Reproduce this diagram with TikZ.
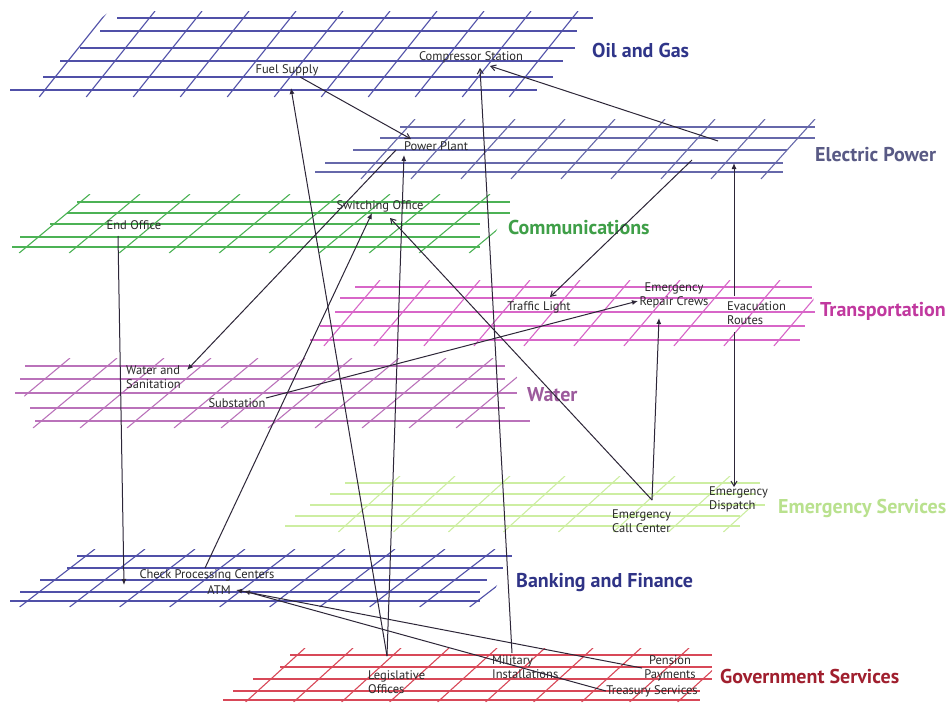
\documentclass[tikz,border=0pt]{standalone}
\usepackage{fontspec}
\setmainfont{PT Sans}
\usetikzlibrary{arrows.meta}
\definecolor{ogc}{HTML}{5050A8}
\definecolor{epc}{HTML}{6668AA}
\definecolor{cmc}{HTML}{4CB255}
\definecolor{trc}{HTML}{D866C8}
\definecolor{wac}{HTML}{BA72BA}
\definecolor{esc}{HTML}{CDEEA2}
\definecolor{bkc}{HTML}{5050A8}
\definecolor{gvc}{HTML}{D84858}
\definecolor{ogt}{HTML}{2F3589}
\definecolor{ept}{HTML}{595A85}
\definecolor{cmt}{HTML}{3F9F48}
\definecolor{trt}{HTML}{C1399F}
\definecolor{wat}{HTML}{9C5A9C}
\definecolor{est}{HTML}{B9E18E}
\definecolor{bkt}{HTML}{2F3386}
\definecolor{gvt}{HTML}{A01F2E}
\definecolor{conc}{HTML}{2D2638}
\definecolor{txt}{HTML}{2A2A2A}
\newcommand{\gridplane}[7]{%
  \begin{scope}
    \foreach \yy/\aa/\bb in {#2} \draw[#1, line width=1.1pt] (\aa,\yy) -- (\bb,\yy);
    \clip #3;
    \foreach \xx in {#4} \draw[#1, line width=1.1pt] (\xx,#5) -- ({\xx-#7*(#6-#5)},#6);
  \end{scope}}
\tikzset{
  conn/.style={draw=conc, line width=1pt},
  fa/.style={conn, -{Latex[length=6pt,width=5pt]}},
  oa/.style={conn, -{Straight Barb[length=5pt,width=6pt]}},
  biglabel/.style={font=\bfseries\fontsize{20}{22}\selectfont, inner sep=0pt, anchor=west},
  small/.style={font=\fontsize{12.5}{14}\selectfont, text=txt, inner sep=0pt},
  smallml/.style={small, align=left, anchor=west},
}
\begin{document}
\begin{tikzpicture}[x=1pt,y=-1pt]
\useasboundingbox[fill=white] (0,0) rectangle (952,702);
% planes
\gridplane{ogc}{18/117/593, 31/100/577, 48/80/575, 61/60/563, 77/43/553, 90/10/537}
  {(110,11)--(598,11)--(542,97)--(4,97)--cycle}{108,155,...,590}{11}{97}{0.8}
\gridplane{epc}{127/400/815, 138/380/815, 150/353/787, 163/325/783, 172/315/783}
  {(395,119)--(820,119)--(788,179)--(308,179)--cycle}{415,465,...,815}{119}{179}{0.9}
\gridplane{cmc}{202/77/510, 213/67/510, 224/50/480, 237/20/480, 247/12/480}
  {(72,194)--(515,194)--(485,253)--(5,253)--cycle}{90,140,...,540}{194}{253}{1.2}
\gridplane{trc}{287/355/812, 298/340/812, 312/335/815, 326/320/805, 340/310/800}
  {(350,280)--(817,280)--(805,346)--(303,346)--cycle}{380,430,...,840}{280}{346}{0.85}
\gridplane{wac}{366/25/505, 379/20/505, 393/15/517, 408/30/505, 421/35/530}
  {(20,358)--(510,358)--(535,428)--(28,428)--cycle}{70,117,...,580}{358}{428}{1.2}
\gridplane{esc}{483/345/760, 494/330/755, 505/310/765, 516/295/740, 526/285/740}
  {(340,476)--(765,476)--(745,532)--(278,532)--cycle}{400,455,...,800}{476}{532}{1.1}
\gridplane{bkc}{556/77/512, 568/67/503, 580/40/487, 592/20/480, 601/10/480}
  {(72,549)--(517,549)--(485,607)--(4,607)--cycle}{95,145,...,545}{549}{607}{1.3}
\gridplane{gvc}{655/290/712, 667/280/712, 679/253/712, 691/233/700, 700/223/700}
  {(285,648)--(717,648)--(705,702)--(218,702)--cycle}{305,353,...,750}{648}{702}{1.1}
% plane labels
\node[biglabel, text=ogt] (oglab) at (592,50) {Oil and Gas};
\node[biglabel, text=ept] (eplab) at (815,155) {Electric Power};
\node[biglabel, text=cmt] (cmlab) at (508,227) {Communications};
\node[biglabel, text=trt] (trlab) at (820,311) {Transportation};
\node[biglabel, text=wat] (walab) at (527,395) {Water};
\node[biglabel, text=est] (eslab) at (778,508) {Emergency Services};
\node[biglabel, text=bkt] (bklab) at (516,582) {Banking and Finance};
\node[biglabel, text=gvt] (gvlab) at (720,676) {Government Services};
% small labels
\node[small] (fuel) at (287,70) {Fuel Supply};
\node[small] (comp) at (471,57) {Compressor Station};
\node[small] (pp) at (436,146) {Power Plant};
\node[small] (sw) at (380,206) {Switching Office};
\node[small] (endo) at (134,225) {End Office};
\node[small] (tl) at (539,307) {Traffic Light};
\node[small, align=center] (erc) at (674,295) {Emergency\\Repair Crews};
\node[smallml] (evac) at (727,313) {Evacuation\\Routes};
\node[smallml] (ws) at (126,377) {Water and\\Sanitation};
\node[small] (sub) at (237,403) {Substation};
\node[smallml] (ecc) at (612,521) {Emergency\\Call Center};
\node[smallml] (ed) at (709,499) {Emergency\\Dispatch};
\node[small] (cpc) at (207,575) {Check Processing Centers};
\node[small] (atm) at (219,590) {ATM};
\node[smallml] (leg) at (368,682) {Legislative\\Offices};
\node[smallml] (mil) at (492,667) {Military\\Installations};
\node[small, align=center] (pen) at (670,668) {Pension\\Payments};
\node[small] (tre) at (652,691) {Treasury Services};
% connector end points
\coordinate (fuelS) at (300,77);
\coordinate (fuelA) at (291,88);
\coordinate (ppA) at (411,139);
\coordinate (ppB) at (404,155);
\coordinate (ppC) at (396,150);
\coordinate (compA) at (480,68);
\coordinate (compB) at (490,66);
\coordinate (epA) at (718,141);
\coordinate (epB) at (692,160);
\coordinate (epC) at (734,163);
\coordinate (swA) at (372,213);
\coordinate (swB) at (390,218);
\coordinate (endA) at (118,236);
\coordinate (tlA) at (550,297);
\coordinate (ercA) at (638,301);
\coordinate (ercB) at (659,318);
\coordinate (evT) at (734,296);
\coordinate (evB) at (734,332);
\coordinate (wsA) at (187,370);
\coordinate (subA) at (266,398);
\coordinate (eccA) at (652,500);
\coordinate (edA) at (734,487);
\coordinate (cpcA) at (124,585);
\coordinate (cpcB) at (205,568);
\coordinate (atmA) at (236,590);
\coordinate (atmB) at (244,591);
\coordinate (legA) at (387,656);
\coordinate (milA) at (512,653);
\coordinate (penA) at (642,668);
\coordinate (treA) at (606,691);
% connectors
\draw[oa] (fuelS) -- (ppA);
\draw[fa] (legA) -- (fuelA);
\draw[fa] (legA) -- (ppB);
\draw[oa] (milA) -- (compA);
\draw[oa] (epA) -- (compB);
\draw[oa] (epB) -- (tlA);
\draw[fa] (evT) -- (epC);
\draw[oa] (evB) -- (edA);
\draw[fa] (eccA) -- (ercB);
\draw[oa] (eccA) -- (swB);
\draw[fa] (subA) -- (ercA);
\draw[fa] (ppC) -- (wsA);
\draw[fa] (cpcB) -- (swA);
\draw[fa] (endA) -- (cpcA);
\draw[fa] (penA) -- (atmA);
\draw[fa] (treA) -- (atmB);
\end{tikzpicture}
\end{document}
